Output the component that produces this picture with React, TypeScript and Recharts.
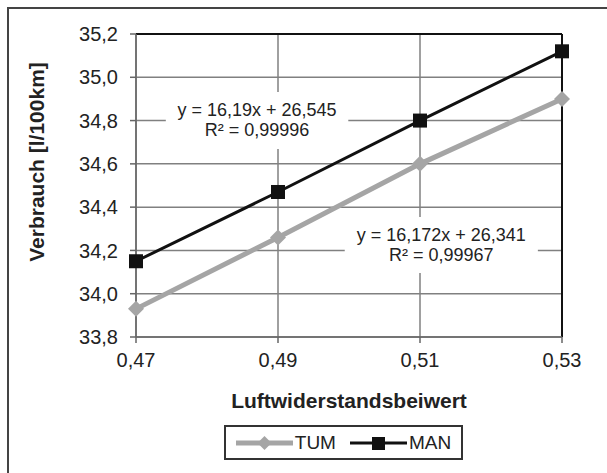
import {
  LineChart,
  Line,
  XAxis,
  YAxis,
  CartesianGrid,
  ReferenceLine,
  ReferenceArea,
  Legend,
  Label,
} from "recharts";

const xValues = [0.47, 0.49, 0.51, 0.53];
const tumValues = [33.93, 34.26, 34.6, 34.9];
const manValues = [34.15, 34.47, 34.8, 35.12];
const xTicks = [0.47, 0.49, 0.51, 0.53];
const yTicks = [33.8, 34.0, 34.2, 34.4, 34.6, 34.8, 35.0, 35.2];
const legendOrder = ["TUM", "MAN"];
const manTrend = ["y = 16,19x + 26,545", "R² = 0,99996"];
const tumTrend = ["y = 16,172x + 26,341", "R² = 0,99967"];

const data = xValues.map((x, i) => ({ x, TUM: tumValues[i], MAN: manValues[i] }));

const FONT = "'Liberation Sans', Arial, sans-serif";
const TEXT = "#222";
const GRID = "#808080";
const TUM_COLOR = "#a5a5a5";
const MAN_COLOR = "#111";

const comma = (v: number, d: number) => v.toFixed(d).replace(".", ",");

const Diamond = (props: any) => {
  const { cx, cy, index } = props;
  if (cx == null || cy == null) return <g key={index} />;
  const r = 8;
  return (
    <path
      key={index}
      d={`M${cx},${cy - r} L${cx + r},${cy} L${cx},${cy + r} L${cx - r},${cy} Z`}
      fill={TUM_COLOR}
    />
  );
};

const Square = (props: any) => {
  const { cx, cy, index } = props;
  if (cx == null || cy == null) return <g key={index} />;
  const s = 7;
  return <rect key={index} x={cx - s} y={cy - s} width={s * 2} height={s * 2} fill={MAN_COLOR} />;
};

const trendLabel = (lines: string[]) => (props: any) => {
  const { viewBox } = props;
  const cx = viewBox.x + viewBox.width / 2;
  const cy = viewBox.y + viewBox.height / 2;
  return (
    <text x={cx} textAnchor="middle" fontSize={18} fontFamily={FONT} fill={TEXT}>
      <tspan x={cx} y={cy - 10} dominantBaseline="central">
        {lines[0]}
      </tspan>
      <tspan x={cx} y={cy + 10} dominantBaseline="central">
        {lines[1]}
      </tspan>
    </text>
  );
};

const LegendBox = (props: any) => {
  const items = [...(props.payload || [])].sort(
    (a: any, b: any) => legendOrder.indexOf(a.value) - legendOrder.indexOf(b.value)
  );
  return (
    <div
      style={{
        border: "2px solid #333",
        height: 31,
        display: "flex",
        alignItems: "center",
        justifyContent: "center",
        gap: 14,
        fontFamily: FONT,
        fontSize: 19,
        color: TEXT,
        background: "#fff",
      }}
    >
      {items.map((it: any) => (
        <div key={it.value} style={{ display: "flex", alignItems: "center" }}>
          <svg width={57} height={18}>
            <line
              x1={0}
              y1={9}
              x2={57}
              y2={9}
              stroke={it.color}
              strokeWidth={it.value === "TUM" ? 5 : 3}
            />
            {it.value === "TUM" ? (
              <path d="M28.5,2 L35.5,9 L28.5,16 L21.5,9 Z" fill={it.color} />
            ) : (
              <rect x={22} y={3} width={13} height={13} fill={it.color} />
            )}
          </svg>
          <span style={{ marginLeft: 2 }}>{it.value}</span>
        </div>
      ))}
    </div>
  );
};

export default function App() {
  return (
    <div
      style={{
        position: "absolute",
        left: 0,
        top: 0,
        width: 607,
        height: 473,
        overflow: "hidden",
        background: "#fff",
      }}
    >
      <div
        style={{
          position: "absolute",
          left: 7,
          top: 7,
          width: 640,
          height: 500,
          border: "2px solid #444",
        }}
      />
      <LineChart
        width={607}
        height={473}
        data={data}
        margin={{ top: 34, right: 45, bottom: 0, left: 0 }}
        style={{ position: "absolute", left: 0, top: 0 }}
      >
        <CartesianGrid stroke={GRID} strokeWidth={1.5} />
        <XAxis
          dataKey="x"
          type="number"
          domain={[0.47, 0.53]}
          ticks={xTicks}
          tickFormatter={(v) => comma(v, 2)}
          height={136}
          tickSize={6}
          tickMargin={10}
          stroke="#666"
          strokeWidth={1.5}
          tick={{ fill: TEXT, fontSize: 20, fontFamily: FONT }}
        >
          <Label
            content={(p: any) => (
              <text
                x={p.viewBox.x + p.viewBox.width / 2}
                y={p.viewBox.y + 63}
                textAnchor="middle"
                dominantBaseline="central"
                fontSize={21}
                fontWeight="bold"
                fontFamily={FONT}
                fill={TEXT}
              >
                Luftwiderstandsbeiwert
              </text>
            )}
          />
        </XAxis>
        <YAxis
          type="number"
          domain={[33.8, 35.2]}
          ticks={yTicks}
          tickFormatter={(v) => comma(v, 1)}
          width={136}
          tickSize={6}
          tickMargin={12}
          stroke="#666"
          strokeWidth={1.5}
          tick={{ fill: TEXT, fontSize: 20, fontFamily: FONT }}
        >
          <Label
            content={(p: any) => {
              const x = p.viewBox.x + 36;
              const y = p.viewBox.y + 128;
              return (
                <text
                  x={x}
                  y={y}
                  transform={`rotate(-90 ${x} ${y})`}
                  textAnchor="middle"
                  dominantBaseline="central"
                  fontSize={21}
                  fontWeight="bold"
                  fontFamily={FONT}
                  fill={TEXT}
                >
                  Verbrauch [l/100km]
                </text>
              );
            }}
          />
        </YAxis>
        <ReferenceLine y={35.2} stroke="#111" strokeWidth={2} />
        <ReferenceLine x={0.53} stroke="#111" strokeWidth={2} />
        <ReferenceArea
          x1={0.4742}
          x2={0.4999}
          y1={34.669}
          y2={34.932}
          fill="#fff"
          fillOpacity={1}
          stroke="none"
          label={trendLabel(manTrend)}
        />
        <ReferenceArea
          x1={0.4994}
          x2={0.5266}
          y1={34.096}
          y2={34.354}
          fill="#fff"
          fillOpacity={1}
          stroke="none"
          label={trendLabel(tumTrend)}
        />
        <Legend
          layout="horizontal"
          verticalAlign="middle"
          align="center"
          wrapperStyle={{ left: 224, top: 425, width: 239 }}
          content={LegendBox}
        />
        <Line
          dataKey="TUM"
          stroke={TUM_COLOR}
          strokeWidth={5}
          dot={Diamond}
          activeDot={false}
          isAnimationActive={false}
        />
        <Line
          dataKey="MAN"
          stroke={MAN_COLOR}
          strokeWidth={3}
          dot={Square}
          activeDot={false}
          isAnimationActive={false}
        />
      </LineChart>
    </div>
  );
}
